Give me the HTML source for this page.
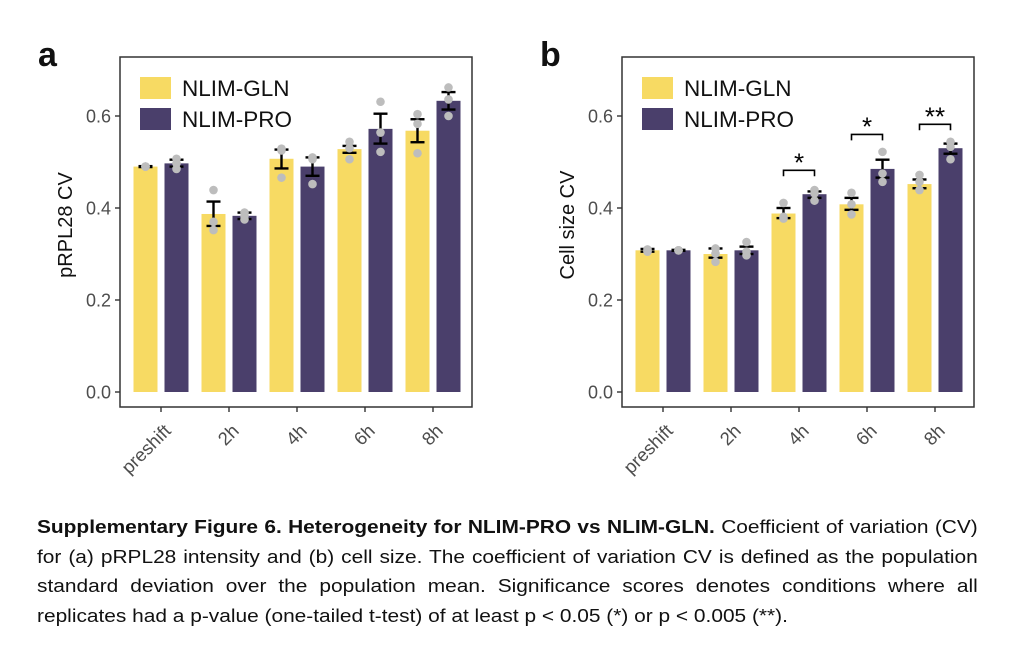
<!DOCTYPE html>
<html><head><meta charset="utf-8"><style>
body{margin:0;background:#fff;width:1019px;height:653px;overflow:hidden;font-family:"Liberation Sans",Arial,sans-serif}
#cap{position:absolute;left:37px;top:513px;width:811px;font-size:18px;line-height:29.5px;color:#111;transform:scaleX(1.16);transform-origin:0 0}
#cap div{text-align:justify;text-align-last:justify;white-space:nowrap}
#cap div.last{text-align-last:left}
</style></head><body>
<svg id="fig" width="1019" height="510" style="position:absolute;left:0;top:0" xmlns="http://www.w3.org/2000/svg"></svg>
<div id="cap">
<div><b>Supplementary Figure 6. Heterogeneity for NLIM-PRO vs NLIM-GLN.</b> Coefficient of variation (CV)</div>
<div>for (a) pRPL28 intensity and (b) cell size. The coefficient of variation CV is defined as the population</div>
<div>standard deviation over the population mean. Significance scores denotes conditions where all</div>
<div class="last">replicates had a p-value (one-tailed t-test) of at least p &lt; 0.05 (*) or p &lt; 0.005 (**).</div>
</div>
<script>
const categories=["preshift","2h","4h","6h","8h"];
const yTicks=[0,0.2,0.4,0.6];
const aGln=[0.490,0.387,0.507,0.528,0.568];
const aPro=[0.497,0.383,0.490,0.572,0.633];
const aGlnErr=[[0.491,0.489],[0.414,0.361],[0.527,0.486],[0.535,0.520],[0.593,0.543]];
const aProErr=[[0.505,0.490],[0.390,0.376],[0.510,0.470],[0.605,0.540],[0.652,0.614]];
const aGlnPts=[[0.49,0.49,0.49],[0.439,0.370,0.352],[0.529,0.525,0.466],[0.544,0.530,0.506],[0.604,0.583,0.519]];
const aProPts=[[0.507,0.497,0.485],[0.390,0.383,0.375],[0.510,0.506,0.452],[0.631,0.564,0.522],[0.662,0.636,0.600]];
const bGln=[0.308,0.300,0.388,0.408,0.452];
const bPro=[0.308,0.308,0.430,0.485,0.530];
const bGlnErr=[[0.311,0.305],[0.312,0.292],[0.400,0.378],[0.422,0.396],[0.462,0.443]];
const bProErr=[[0.309,0.307],[0.316,0.300],[0.436,0.422],[0.505,0.466],[0.540,0.518]];
const bGlnPts=[[0.310,0.307,0.305],[0.312,0.301,0.283],[0.411,0.381,0.377],[0.433,0.408,0.386],[0.472,0.457,0.439]];
const bProPts=[[0.308,0.308,0.308],[0.326,0.305,0.297],[0.439,0.432,0.416],[0.522,0.475,0.457],[0.544,0.533,0.506]];
const bSig=["","","*","*","**"];
const bSigY=[0,0,0.482,0.560,0.582];

const svg=document.getElementById('fig');
const NS="http://www.w3.org/2000/svg";
function el(tag,attrs,parent,text){const e=document.createElementNS(NS,tag);for(const k in attrs)e.setAttribute(k,attrs[k]);if(text!==undefined)e.textContent=text;(parent||svg).appendChild(e);return e;}
function panel(ox,letter,ytitle,gln,pro,gErr,pErr,gPts,pPts,sig,sigY,key){
  const g=el('g',{});
  
  
  const left=ox, right=ox+352, top=57, bottom=407;
  const y=v=>392-v*460;
  const x=i=>ox+41+i*68;
  const t=el('text',{x:ox-82,y:66,'font-size':34,'font-weight':'bold',fill:'#111'},g,letter);
  
  
  const yt=el('text',{x:0,y:0,'font-size':20,fill:'#111','text-anchor':'middle',transform:`translate(${ox-48},225) rotate(-90)`},g,ytitle);
  
  
  yTicks.forEach(v=>{
    el('line',{x1:left-5,x2:left,y1:y(v),y2:y(v),stroke:'#333','stroke-width':1.4},g);
    const tl=el('text',{x:left-9,y:y(v)+6.5,'font-size':18,fill:'#4d4d4d','text-anchor':'end'},g,v.toFixed(1));
    
    
  });
  categories.forEach((c,i)=>{
    const cx=x(i);
    [[gln,gErr,gPts,'#f7da63','gln',-15.5],[pro,pErr,pPts,'#4a3f6b','pro',15.5]].forEach(([vals,errs,pts,col,s,off])=>{
      const bx=cx+off;
      const r=el('rect',{x:bx-12,y:y(vals[i]),width:24,height:y(0)-y(vals[i]),fill:col},g);
      
      
      const e=errs[i];
      el('line',{x1:bx,x2:bx,y1:y(e[0]),y2:y(e[1]),stroke:'#000','stroke-width':2.4},g);
      el('line',{x1:bx-7,x2:bx+7,y1:y(e[0]),y2:y(e[0]),stroke:'#000','stroke-width':2.4},g);
      el('line',{x1:bx-7,x2:bx+7,y1:y(e[1]),y2:y(e[1]),stroke:'#000','stroke-width':2.4},g);
      pts[i].forEach(p=>{
        const d=el('circle',{cx:bx,cy:y(p),r:4.3,fill:'#bdbdbd'},g);
        
        
      });
    });
    el('line',{x1:cx,x2:cx,y1:bottom,y2:bottom+5,stroke:'#333','stroke-width':1.4},g);
    const xl=el('text',{x:0,y:0,'font-size':18.5,fill:'#4d4d4d','text-anchor':'end',transform:`translate(${cx+11},${bottom+25}) rotate(-45)`},g,c);
    
    
    if(sig&&sig[i]){
      const x1=x(i)-15.5,x2=x(i)+15.5,yy=y(sigY[i]);
      const br=el('path',{d:`M${x1},${yy+6}V${yy}H${x2}V${yy+6}`,fill:'none',stroke:'#000','stroke-width':1.6},g);
      
      
      const st=el('text',{x:cx,y:yy+1,'font-size':26,'text-anchor':'middle',fill:'#000'},g,sig[i]);
      
      
    }
  });
  el('rect',{x:left,y:top,width:right-left,height:bottom-top,fill:'none',stroke:'#333','stroke-width':1.5},g);
  [['#f7da63','NLIM-GLN',77],['#4a3f6b','NLIM-PRO',108]].forEach(([col,lab,ly])=>{
    const lg=el('g',{},g);
    
    
    el('rect',{x:left+20,y:ly,width:31,height:22,fill:col},lg);
    el('text',{x:left+62,y:ly+19,'font-size':22.5,fill:'#111'},lg,lab);
  });
}
panel(120,'a','pRPL28 CV',aGln,aPro,aGlnErr,aProErr,aGlnPts,aProPts,null,null,'a');
panel(622,'b','Cell size CV',bGln,bPro,bGlnErr,bProErr,bGlnPts,bProPts,bSig,bSigY,'b');
</script>
</body></html>
